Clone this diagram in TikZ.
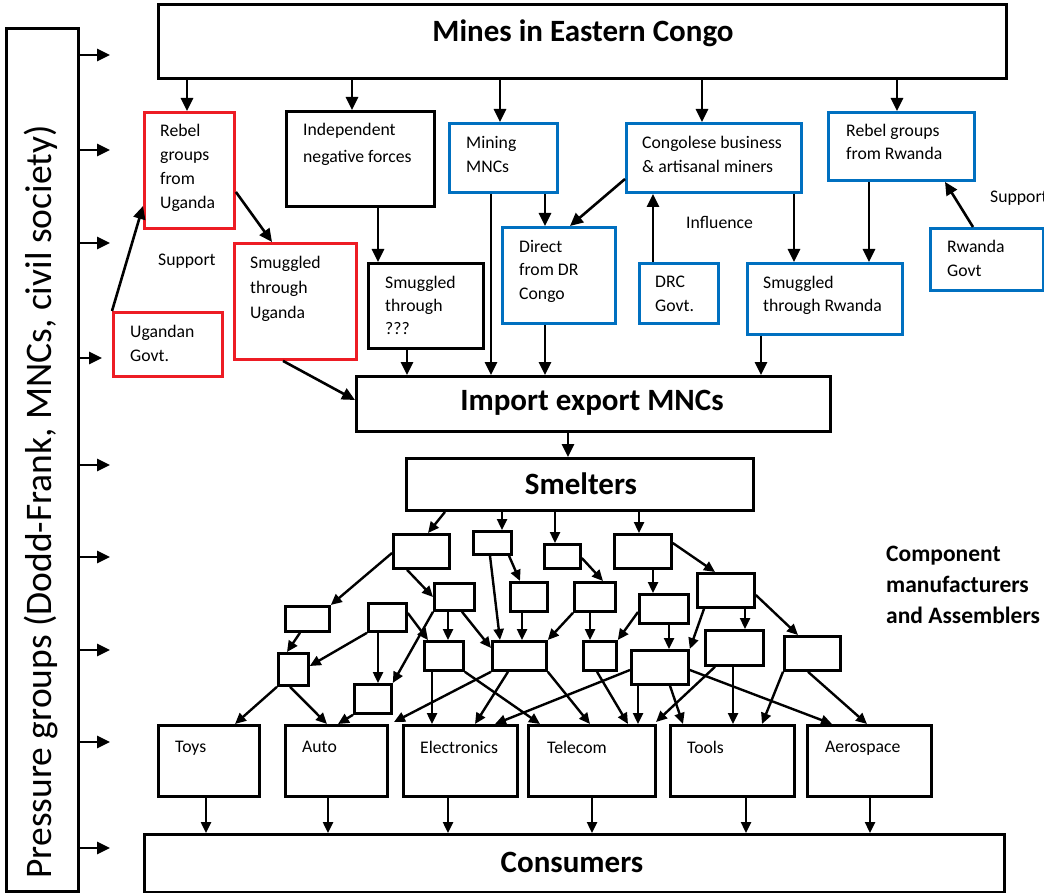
\documentclass[tikz,border=0pt]{standalone}
\usepackage{fontspec}
\setmainfont{Carlito}
\usetikzlibrary{arrows.meta,calc}
\definecolor{redc}{RGB}{237,28,36}
\definecolor{bluec}{RGB}{0,112,192}
\newcommand{\bxat}[6]{\node[#2, minimum width={(#5)-(#3)}, minimum height={(#6)-(#4)}] (#1) at (#3,#4) {};}
\tikzset{
  bx/.style={draw=black, line width=2.9pt, inner sep=0, anchor=north west, fill=white},
  rbx/.style={bx, draw=redc},
  bbx/.style={bx, draw=bluec},
  cbx/.style={bx, line width=2.8pt},
  arr/.style={-{Triangle[length=13pt,width=12pt]}, line width=2.6pt},
  narr/.style={-{Triangle[length=11pt,width=10pt]}, line width=2.4pt},
  t/.style={anchor=north west, inner sep=0, align=left, font=\fontsize{17.7}{24}\selectfont},
  tb/.style={inner sep=0, font=\fontsize{31}{34}\selectfont\bfseries},
}
\begin{document}
\begin{tikzpicture}[x=1pt,y=-1pt]
\useasboundingbox (0,0) rectangle (1044,893);
\clip (0,0) rectangle (1044,893);
\fill[white] (0,0) rectangle (1044,893);
% ---------- boxes ----------
\bxat{press}{bx}{5}{27}{77}{890}
\bxat{mines}{bx}{157}{3}{1005}{77}
\bxat{rebU}{rbx}{143}{111}{233}{227}
\bxat{indep}{bx}{285}{110}{433}{205}
\bxat{ugGov}{rbx}{112}{311}{221}{375}
\bxat{smugU}{rbx}{233}{242}{355}{358}
\bxat{smugQ}{bx}{367}{262}{482}{347}
\bxat{minMNC}{bbx}{448}{122}{556}{191}
\bxat{direct}{bbx}{501}{226}{614}{322}
\bxat{congo}{bbx}{625}{122}{800}{191}
\bxat{drcGov}{bbx}{638}{262}{717}{322}
\bxat{rebR}{bbx}{827}{111}{973}{179}
\bxat{smugR}{bbx}{746}{262}{901}{333}
\bxat{rwGov}{bbx}{929}{227}{1042}{289}
\bxat{impexp}{bx}{355}{375}{829}{430}
\bxat{smelt}{bx}{405}{457}{752}{509}
% component network
\bxat{A}{cbx}{392}{533}{448}{567}
\bxat{B}{cbx}{472}{530}{510}{553}
\bxat{C}{cbx}{543}{543}{579}{567}
\bxat{D}{cbx}{613}{533}{670}{567}
\bxat{E}{cbx}{433}{582}{473}{609}
\bxat{F}{cbx}{509}{581}{546}{610}
\bxat{G}{cbx}{573}{581}{614}{610}
\bxat{H}{cbx}{638}{593}{687}{622}
\bxat{I}{cbx}{696}{572}{753}{606}
\bxat{J}{cbx}{284}{605}{328}{630}
\bxat{K}{cbx}{367}{602}{405}{630}
\bxat{L}{cbx}{277}{652}{307}{684}
\bxat{M}{cbx}{353}{683}{390}{712}
\bxat{N}{cbx}{423}{640}{462}{669}
\bxat{O}{cbx}{491}{640}{545}{669}
\bxat{P}{cbx}{582}{640}{615}{669}
\bxat{Q}{cbx}{630}{649}{687}{683}
\bxat{R}{cbx}{704}{629}{762}{664}
\bxat{S}{cbx}{783}{635}{839}{669}
% end products
\bxat{toys}{bx}{157}{724}{258}{795}
\bxat{auto}{bx}{284}{724}{386}{795}
\bxat{elec}{bx}{402}{724}{516}{795}
\bxat{tele}{bx}{527}{724}{654}{795}
\bxat{tools}{bx}{669}{724}{793}{795}
\bxat{aero}{bx}{806}{724}{930}{795}
\bxat{cons}{bx}{143}{833}{1003}{891}
% ---------- texts ----------
\node[tb] (minesT) at (583,33) {Mines in Eastern Congo};
\node[tb] (impT) at (592,403) {Import export MNCs};
\node[tb] (smT) at (581,484) {Smelters};
\node[tb] (consT) at (572,862) {Consumers};
\node[rotate=90, inner sep=0, font=\fontsize{37.5}{42}\selectfont] (pressT) at (41,502) {Pressure groups (Dodd-Frank, MNCs, civil society)};
\node[t] (rebUT) at (160,124) {Rebel\\groups\\from\\Uganda};
\node[t, font=\fontsize{17.7}{27}\selectfont] (indepT) at (303,123) {Independent\\negative forces};
\node[t] (sup1) at (158,254) {Support};
\node[t] (ugGovT) at (130,325) {Ugandan\\Govt.};
\node[t, font=\fontsize{17.7}{25}\selectfont] (smugUT) at (250,256) {Smuggled\\through\\Uganda};
\node[t, font=\fontsize{17.7}{23}\selectfont] (smugQT) at (385,276) {Smuggled\\through\\???};
\node[t] (minT) at (466,136) {Mining\\MNCs};
\node[t, font=\fontsize{17.7}{23.5}\selectfont] (dirT) at (519,240) {Direct\\from DR\\Congo};
\node[t] (congoT) at (642,136) {Congolese business\\\& artisanal miners};
\node[t] (drcT) at (655,276) {DRC\\Govt.};
\node[t] (inflT) at (686,216) {Influence};
\node[t, font=\fontsize{17.7}{23}\selectfont] (rebRT) at (846,124) {Rebel groups\\from Rwanda};
\node[t, font=\fontsize{17.7}{23}\selectfont] (smugRT) at (763,276) {Smuggled\\through Rwanda};
\node[t] (rwT) at (947,240) {Rwanda\\Govt};
\node[t] (sup2) at (990,191) {Support};
\node[t] (toysT) at (175,741) {Toys};
\node[t] (autoT) at (302,741) {Auto};
\node[t] (elecT) at (420,741) {Electronics};
\node[t] (teleT) at (547,741) {Telecom};
\node[t] (toolsT) at (687,741) {Tools};
\node[t] (aeroT) at (825,741) {Aerospace};
\node[t, font=\fontsize{23.5}{31}\selectfont\bfseries] (compT) at (886,546) {Component\\manufacturers\\and Assemblers};
% ---------- pressure arrows ----------
\coordinate (pa1) at (110,55);
\coordinate (pa2) at (110,150);
\coordinate (pa3) at (110,243);
\coordinate (pa4) at (102,358);
\coordinate (pa5) at (110,465);
\coordinate (pa6) at (110,557);
\coordinate (pa7) at (110,650);
\coordinate (pa8) at (110,742);
\coordinate (pa9) at (110,848);
\foreach \p in {pa1,pa2,pa3,pa4,pa5,pa6,pa7,pa8,pa9}
  \draw[arr] (press.east |- \p) -- (\p);
% ---------- upper arrows ----------
\draw[arr] (mines.south -| 187,0) -- (rebU.north -| 187,0);
\draw[arr] (mines.south -| 352,0) -- (indep.north -| 352,0);
\draw[arr] (mines.south -| 500,0) -- (minMNC.north -| 500,0);
\draw[arr] (mines.south -| 702,0) -- (congo.north -| 702,0);
\draw[arr] (mines.south -| 897,0) -- (rebR.north -| 897,0);
\draw[arr] (ugGov.north west) -- (rebU.west |- 0,206);
\draw[arr] (rebU.east |- 0,192) -- (smugU.north -| 272,0);
\draw[arr] (smugU.south -| 283,0) -- (impexp.west |- 0,400);
\draw[arr] (indep.south -| 378,0) -- (smugQ.north -| 378,0);
\draw[arr] (smugQ.south -| 407,0) -- (impexp.north -| 407,0);
\draw[arr] (minMNC.south -| 491,0) -- (impexp.north -| 491,0);
\draw[arr] (minMNC.south -| 545,0) -- (direct.north -| 545,0);
\draw[arr] (congo.west |- 0,179) -- (direct.north -| 570,0);
\draw[arr] (direct.south -| 545,0) -- (impexp.north -| 545,0);
\draw[arr] (drcGov.north -| 653,0) -- (congo.south -| 653,0);
\draw[arr] (congo.south -| 794,0) -- (smugR.north -| 794,0);
\draw[arr] (rebR.south -| 869,0) -- (smugR.north -| 869,0);
\draw[arr] (smugR.south -| 761,0) -- (impexp.north -| 761,0);
\draw[arr] (rwGov.north -| 973,0) -- (rebR.south -| 945,0);
\draw[arr] (impexp.south -| 568,0) -- (smelt.north -| 568,0);
% ---------- network arrows ----------
\draw[narr] (smelt.south -| 445,0) -- (A.north -| 428,0);
\draw[narr] (smelt.south -| 502,0) -- (B.north -| 502,0);
\draw[narr] (smelt.south -| 555,0) -- (C.north -| 555,0);
\draw[narr] (smelt.south -| 639,0) -- (D.north -| 639,0);
\draw[narr] (A.west |- 0,553) -- (J.north east);
\draw[narr] (A.south -| 407,0) -- (E.west |- 0,597);
\draw[narr] (B.south -| 490,0) -- (O.north -| 500,0);
\draw[narr] (B.south -| 509,0) -- (F.north -| 520,0);
\draw[narr] (C.east |- 0,558) -- (G.north -| 603,0);
\draw[narr] (D.south -| 653,0) -- (H.north -| 653,0);
\draw[narr] (D.east |- 0,543) -- (I.north -| 715,0);
\draw[narr] (E.south -| 448,0) -- (N.north -| 448,0);
\draw[narr] (E.south -| 462,0) -- (O.west |- 0,648);
\draw[narr] (E.south west) -- (M.north east);
\draw[narr] (J.south -| 300,0) -- (L.north -| 287,0);
\draw[narr] (K.south west) -- (L.east |- 0,666);
\draw[narr] (K.south -| 378,0) -- (M.north -| 378,0);
\draw[narr] (K.east |- 0,613) -- (N.north -| 428,0);
\draw[narr] (F.south -| 522,0) -- (O.north -| 522,0);
\draw[narr] (G.south west) -- (O.north east);
\draw[narr] (G.south -| 590,0) -- (P.north -| 590,0);
\draw[narr] (H.west |- 0,612) -- (P.north east);
\draw[narr] (H.south -| 669,0) -- (Q.north -| 669,0);
\draw[narr] (I.south -| 704,0) -- (Q.north east);
\draw[narr] (I.south -| 745,0) -- (R.north -| 745,0);
\draw[narr] (I.east |- 0,595) -- (S.north -| 798,0);
% to end products
\coordinate (g1) at (394,722);
\coordinate (g2) at (656,722);
\draw[narr] (L.south west) -- (toys.north -| 235,0);
\draw[narr] (L.south -| 290,0) -- (auto.north -| 327,0);
\draw[narr] (M.south west) -- (auto.north -| 338,0);
\draw[narr] (N.south -| 432,0) -- (elec.north -| 432,0);
\draw[narr] (N.south east) -- (tele.north -| 540,0);
\draw[narr] (O.south west) -- (g1);
\draw[narr] (O.south -| 508,0) -- (elec.north -| 475,0);
\draw[narr] (Q.west |- 0,670) -- (elec.north -| 495,0);
\draw[narr] (O.south east) -- (tele.north -| 590,0);
\draw[narr] (P.south -| 597,0) -- (tele.north -| 628,0);
\draw[narr] (Q.south -| 638,0) -- (tele.north -| 638,0);
\draw[narr] (Q.south -| 670,0) -- (tools.north -| 683,0);
\draw[narr] (Q.east |- 0,670) -- (aero.north -| 832,0);
\draw[narr] (R.south -| 715,0) -- (g2);
\draw[narr] (R.south -| 733,0) -- (tools.north -| 733,0);
\draw[narr] (S.south west) -- (tools.north -| 762,0);
\draw[narr] (S.south -| 808,0) -- (aero.north -| 867,0);
% to consumers
\draw[narr] (toys.south -| 206,0) -- (cons.north -| 206,0);
\draw[narr] (auto.south -| 328,0) -- (cons.north -| 328,0);
\draw[narr] (elec.south -| 448,0) -- (cons.north -| 448,0);
\draw[narr] (tele.south -| 592,0) -- (cons.north -| 592,0);
\draw[narr] (tools.south -| 746,0) -- (cons.north -| 746,0);
\draw[narr] (aero.south -| 870,0) -- (cons.north -| 870,0);
\end{tikzpicture}
\end{document}
